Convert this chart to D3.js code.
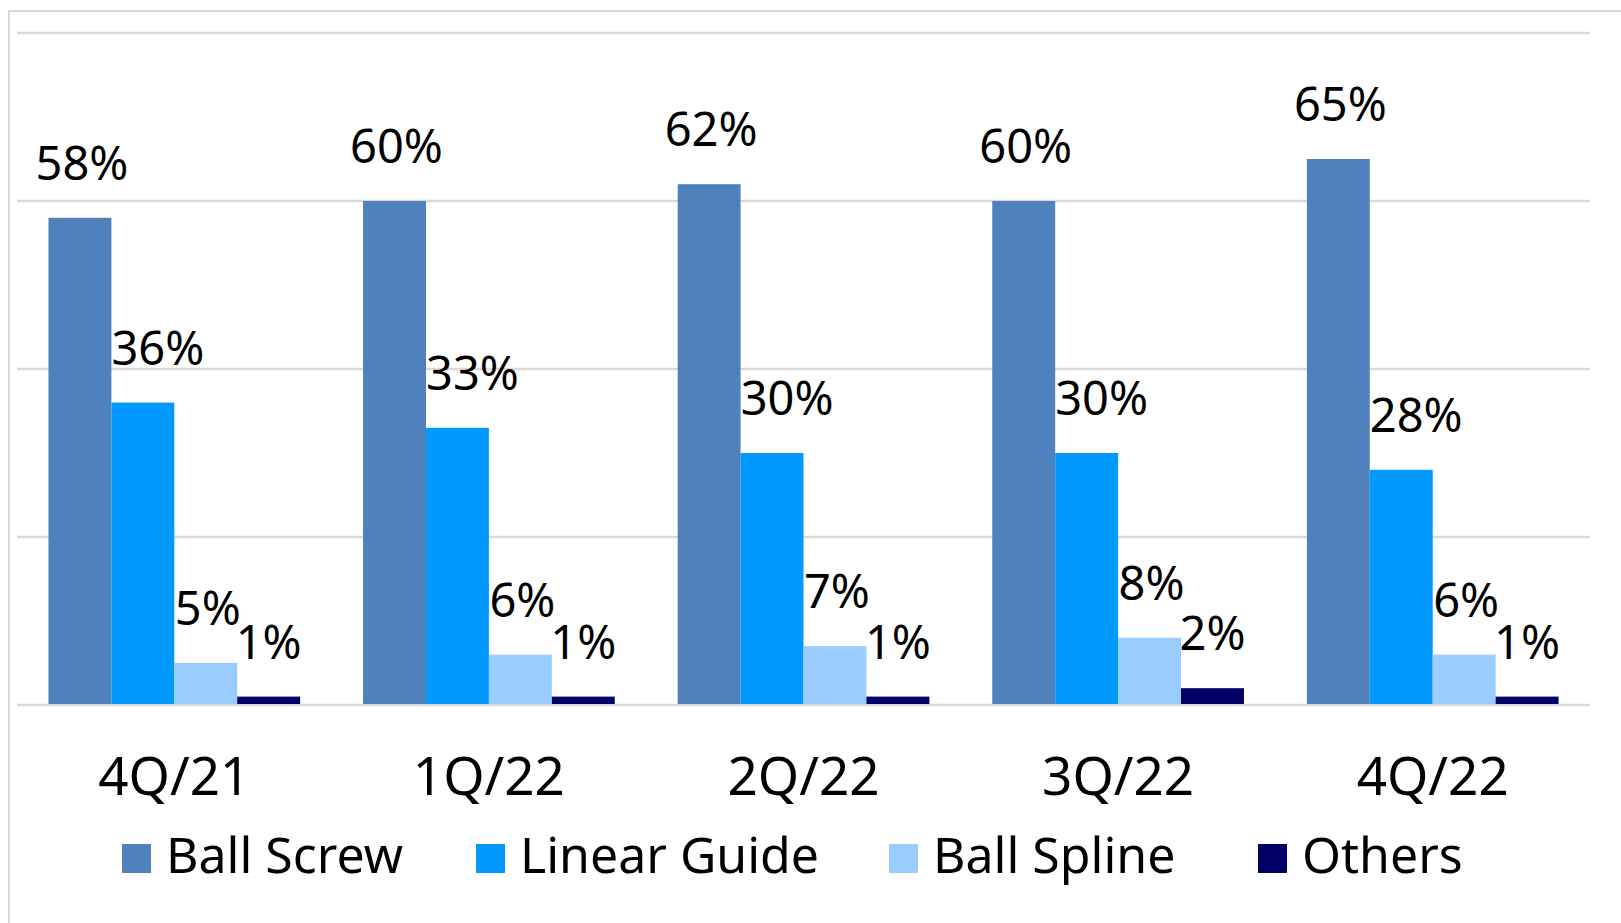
<!DOCTYPE html>
<html>
<head>
<meta charset="utf-8">
<script src="https://cdn.jsdelivr.net/npm/d3@7"></script>
<style>
  body { margin: 0; background: #fff; }
  text { font-family: "Noto Sans", "Open Sans", sans-serif; fill: #000; }
</style>
</head>
<body>
<div id="chart"></div>
<script>
// Chart data
const categories = ["4Q/21", "1Q/22", "2Q/22", "3Q/22", "4Q/22"];
const seriesNames = ["Ball Screw", "Linear Guide", "Ball Spline", "Others"];
const ballScrew = [58, 60, 62, 60, 65];
const linearGuide = [36, 33, 30, 30, 28];
const ballSpline = [5, 6, 7, 8, 6];
const others = [1, 1, 1, 2, 1];
const gridTicks = [0, 20, 40, 60, 80];

const seriesValues = [ballScrew, linearGuide, ballSpline, others];
const colors = ["#4F81BD", "#0099FF", "#99CCFF", "#000066"];
// small horizontal nudge of the value labels per series, as in the source
const labelShift = [2, 15, 2, 0];

const W = 1621, H = 923;

const svg = d3.select("#chart").append("svg")
    .attr("width", W)
    .attr("height", H);

// outer frame (runs off the right / bottom edge like the source image)
svg.append("rect")
    .attr("x", 9).attr("y", 11)
    .attr("width", W).attr("height", H)
    .attr("fill", "none")
    .attr("stroke", "#D9D9D9")
    .attr("stroke-width", 2);

const xScale = d3.scaleBand()
    .domain(categories)
    .range([17, 1590])
    .paddingInner(0.2)
    .paddingOuter(0.1);

const xInner = d3.scaleBand()
    .domain(seriesNames)
    .range([0, xScale.bandwidth()]);

const yScale = d3.scaleLinear()
    .domain([0, 80])
    .range([705, 33]);

// gridlines
svg.append("g")
    .selectAll("line")
    .data(gridTicks)
    .enter().append("line")
    .attr("x1", 17).attr("x2", 1590)
    .attr("y1", d => yScale(d)).attr("y2", d => yScale(d))
    .attr("stroke", "#D9D9D9")
    .attr("stroke-width", 2.5);

// flatten to one record per bar
const rows = [];
categories.forEach((c, i) => {
    seriesNames.forEach((s, j) => {
        rows.push({ cat: c, series: s, idx: j, value: seriesValues[j][i], color: colors[j] });
    });
});

const bars = svg.append("g");

bars.selectAll(".bar")
    .data(rows)
    .enter().append("rect")
    .attr("class", "bar")
    .attr("x", d => xScale(d.cat) + xInner(d.series))
    .attr("y", d => yScale(d.value))
    .attr("width", xInner.bandwidth())
    .attr("height", d => yScale(0) - yScale(d.value) - 1)
    .attr("fill", d => d.color);

// value labels
bars.selectAll(".val")
    .data(rows)
    .enter().append("text")
    .attr("class", "val")
    .attr("x", d => xScale(d.cat) + xInner(d.series) + xInner.bandwidth() / 2 + labelShift[d.idx])
    .attr("y", d => yScale(d.value) - 38)
    .attr("text-anchor", "middle")
    .style("font-size", "47px")
    .text(d => d.value + "%");

// category labels
svg.append("g")
    .selectAll("text")
    .data(categories)
    .enter().append("text")
    .attr("x", d => xScale(d) + xScale.bandwidth() / 2)
    .attr("y", 795)
    .attr("text-anchor", "middle")
    .style("font-size", "53px")
    .text(d => d);

// legend
const legendX = [122, 476, 889, 1258];
const legend = svg.append("g")
    .selectAll("g")
    .data(seriesNames)
    .enter().append("g")
    .attr("transform", (d, i) => `translate(${legendX[i]},844)`);

legend.append("rect")
    .attr("width", 29).attr("height", 29)
    .attr("fill", (d, i) => colors[i]);

legend.append("text")
    .attr("x", 44)
    .attr("y", 29)
    .style("font-size", "50px")
    .text(d => d);
</script>
</body>
</html>
